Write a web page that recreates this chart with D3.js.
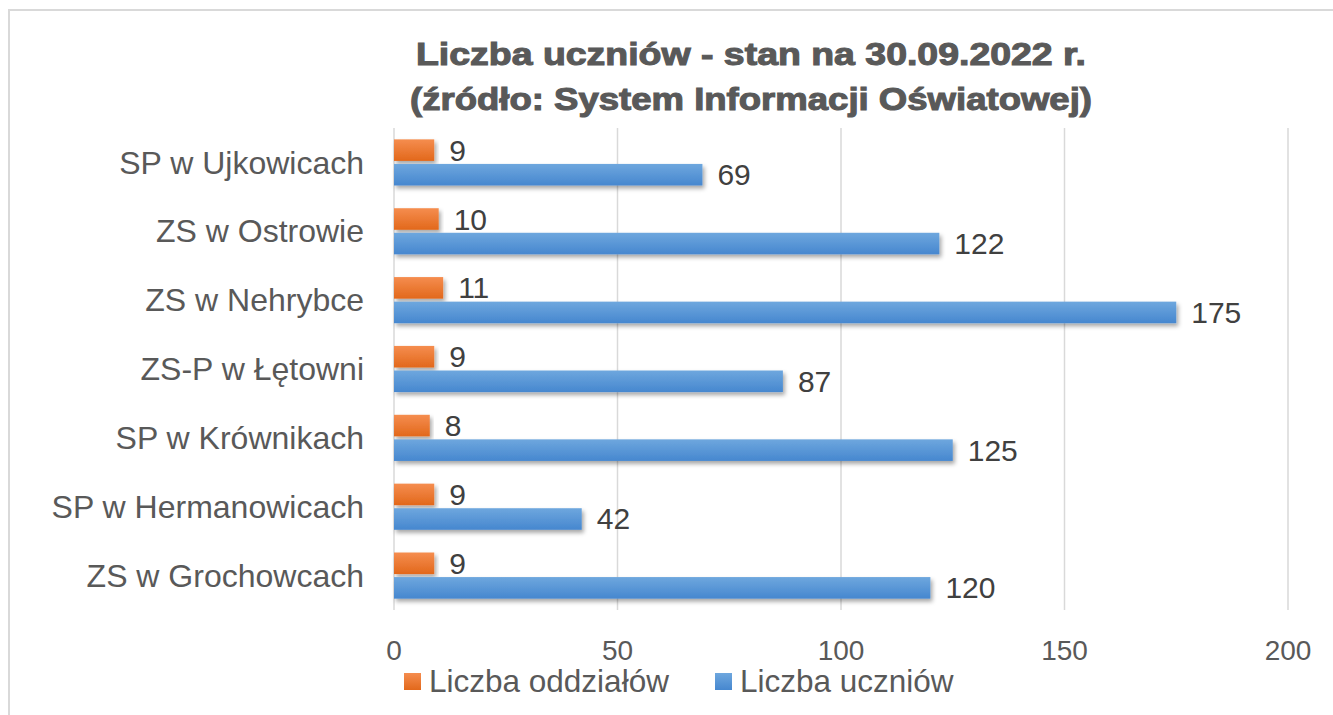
<!DOCTYPE html>
<html>
<head>
<meta charset="utf-8">
<script src="https://cdn.jsdelivr.net/npm/d3@7"></script>
<style>
  body { margin: 0; background: #fff; }
  svg { display: block; }
</style>
</head>
<body>
<script>
var categories = ["SP w Ujkowicach", "ZS w Ostrowie", "ZS w Nehrybce", "ZS-P w Łętowni",
                  "SP w Krównikach", "SP w Hermanowicach", "ZS w Grochowcach"];
var oddzialy = [9, 10, 11, 9, 8, 9, 9];
var uczniowie = [69, 122, 175, 87, 125, 42, 120];
var xTicks = [0, 50, 100, 150, 200];
var seriesNames = ["Liczba oddziałów", "Liczba uczniów"];
var titleLines = ["Liczba uczniów - stan na 30.09.2022 r.", "(źródło: System Informacji Oświatowej)"];

var width = 1333, height = 715;
var margin = {top: 128, right: 45, bottom: 105, left: 394};
var font = "Liberation Sans, Arial, sans-serif";

var svg = d3.select("body").append("svg")
    .attr("width", width)
    .attr("height", height);

var defs = svg.append("defs");

function gradient(id, top, bottom) {
    var g = defs.append("linearGradient")
        .attr("id", id)
        .attr("x1", 0).attr("y1", 0).attr("x2", 0).attr("y2", 1);
    g.append("stop").attr("offset", "0%").attr("stop-color", top);
    g.append("stop").attr("offset", "100%").attr("stop-color", bottom);
}
gradient("gradOrange", "#f58d4f", "#e2681b");
gradient("gradBlue", "#6ea7de", "#4687cf");

var shadow = defs.append("filter").attr("id", "shadow")
    .attr("x", "-5%").attr("y", "-30%").attr("width", "115%").attr("height", "180%");
shadow.append("feDropShadow")
    .attr("dx", 2).attr("dy", 3).attr("stdDeviation", 2)
    .attr("flood-color", "#000").attr("flood-opacity", 0.35);

// outer border (only top and left visible)
svg.append("path")
    .attr("d", "M9,716 L9,10 L1334,10")
    .attr("fill", "none")
    .attr("stroke", "#d9d9d9")
    .attr("stroke-width", 2);

// title - heavy font, stretched to the width seen in the picture
var titleWidths = [670, 682];
svg.append("g").selectAll("text")
    .data(titleLines)
    .enter()
    .append("text")
    .attr("x", function (d, i) { return 751 - titleWidths[i] / 2; })
    .attr("y", function (d, i) { return 65 + i * 45; })
    .attr("textLength", function (d, i) { return titleWidths[i]; })
    .attr("lengthAdjust", "spacingAndGlyphs")
    .attr("font-family", font)
    .attr("font-weight", "bold")
    .attr("font-size", "32px")
    .attr("fill", "#595959")
    .attr("stroke", "#595959")
    .attr("stroke-width", 1.1)
    .text(function (d) { return d; });

var x = d3.scaleLinear()
    .domain([0, 200])
    .range([margin.left, width - margin.right]);

var y = d3.scaleBand()
    .domain(categories)
    .range([margin.top, height - margin.bottom])
    .paddingInner(0.33)
    .paddingOuter(0.165);

// gridlines
svg.append("g").selectAll("line")
    .data(xTicks)
    .enter()
    .append("line")
    .attr("x1", function (d) { return x(d); })
    .attr("x2", function (d) { return x(d); })
    .attr("y1", margin.top)
    .attr("y2", height - margin.bottom)
    .attr("stroke", "#d9d9d9")
    .attr("stroke-width", 1.5);

// x tick labels
svg.append("g").selectAll("text")
    .data(xTicks)
    .enter()
    .append("text")
    .attr("x", function (d) { return x(d); })
    .attr("y", 660)
    .attr("text-anchor", "middle")
    .attr("font-family", font)
    .attr("font-size", "28px")
    .attr("fill", "#595959")
    .text(function (d) { return d; });

// category labels
svg.append("g").selectAll("text")
    .data(categories)
    .enter()
    .append("text")
    .attr("x", 364)
    .attr("y", function (d) { return y(d) + y.bandwidth() / 2; })
    .attr("dy", "0.35em")
    .attr("text-anchor", "end")
    .attr("font-family", font)
    .attr("font-size", "32px")
    .attr("fill", "#595959")
    .text(function (d) { return d; });

var barH = y.bandwidth() / 2 - 1.5;

var series = [
    {name: seriesNames[0], values: oddzialy, fill: "url(#gradOrange)", offset: 0},
    {name: seriesNames[1], values: uczniowie, fill: "url(#gradBlue)", offset: barH + 3}
];

series.forEach(function (s) {
    var g = svg.append("g");
    g.selectAll("rect")
        .data(s.values)
        .enter()
        .append("rect")
        .attr("x", x(0))
        .attr("y", function (d, i) { return y(categories[i]) + s.offset; })
        .attr("width", function (d) { return x(d) - x(0); })
        .attr("height", barH)
        .attr("fill", s.fill)
        .attr("filter", "url(#shadow)");
    g.selectAll("text")
        .data(s.values)
        .enter()
        .append("text")
        .attr("x", function (d) { return x(d) + 15; })
        .attr("y", function (d, i) { return y(categories[i]) + s.offset + barH / 2; })
        .attr("dy", "0.35em")
        .attr("font-family", font)
        .attr("font-size", "30px")
        .attr("fill", "#404040")
        .text(function (d) { return d; });
});

// legend
var legend = svg.append("g");
var legendX = [404, 715];
var legendFill = ["url(#gradOrange)", "url(#gradBlue)"];
legend.selectAll("rect")
    .data(seriesNames)
    .enter()
    .append("rect")
    .attr("x", function (d, i) { return legendX[i]; })
    .attr("y", 673)
    .attr("width", 17)
    .attr("height", 17)
    .attr("fill", function (d, i) { return legendFill[i]; });
legend.selectAll("text")
    .data(seriesNames)
    .enter()
    .append("text")
    .attr("x", function (d, i) { return legendX[i] + 25; })
    .attr("y", 692)
    .attr("font-family", font)
    .attr("font-size", "31.5px")
    .attr("fill", "#595959")
    .text(function (d) { return d; });
</script>
</body>
</html>
